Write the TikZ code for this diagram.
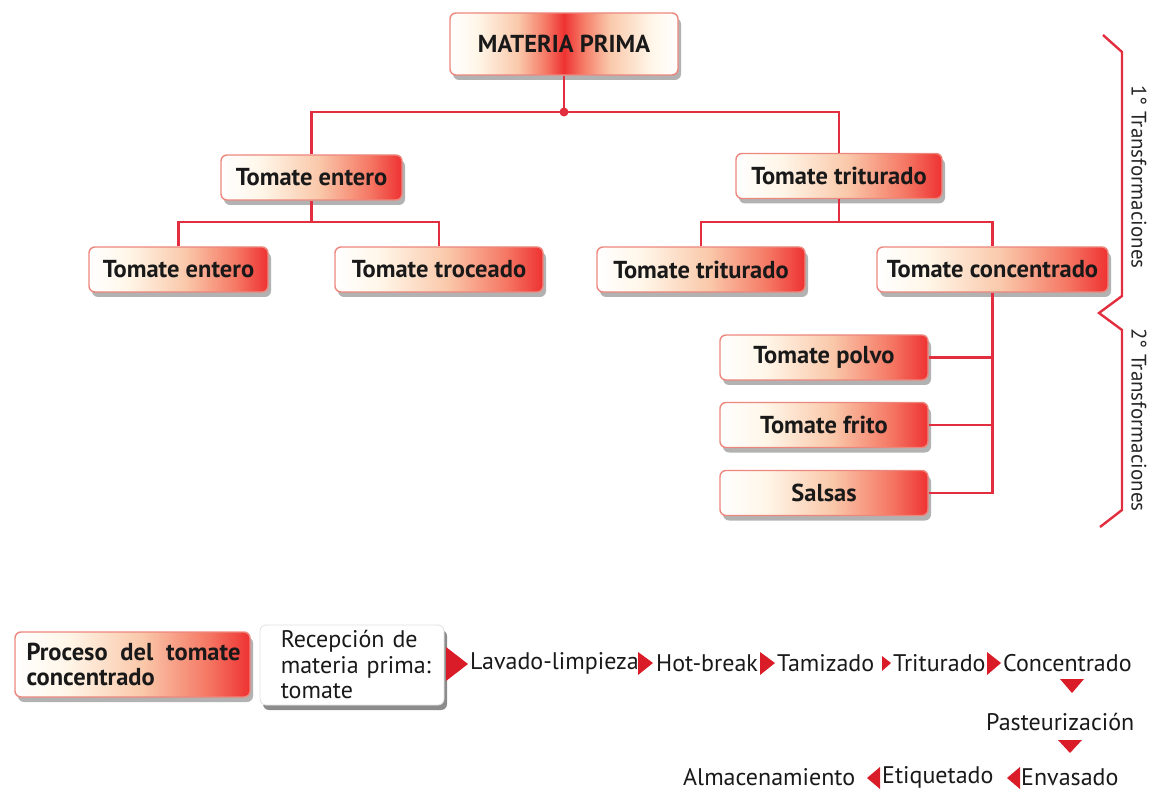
\documentclass[tikz,border=0pt]{standalone}
\usepackage{fontspec}
\setmainfont{PT Sans}
\usetikzlibrary{shadows}
\definecolor{boxred}{RGB}{238,50,50}
\definecolor{salmonr}{RGB}{245,120,100}
\definecolor{peach}{RGB}{250,200,170}
\definecolor{cream}{RGB}{255,246,232}
\definecolor{boxborder}{RGB}{236,135,125}
\definecolor{linered}{RGB}{226,46,62}
\definecolor{tri}{RGB}{218,28,40}
\pgfdeclarehorizontalshading{redbox}{100bp}{color(0bp)=(white); color(25bp)=(white); color(36bp)=(cream); color(52bp)=(peach); color(66bp)=(salmonr); color(75bp)=(boxred); color(100bp)=(boxred)}
\pgfdeclarehorizontalshading{midred}{100bp}{color(0bp)=(white); color(25bp)=(white); color(31bp)=(cream); color(40bp)=(peach); color(46bp)=(salmonr); color(50bp)=(boxred); color(54bp)=(salmonr); color(60bp)=(peach); color(69bp)=(cream); color(75bp)=(white); color(100bp)=(white)}
\begin{document}
\begin{tikzpicture}[x=1pt,y=-1pt,
  box/.style={draw=boxborder, line width=1.4pt, rounded corners=6pt, shading=redbox,
    drop shadow={shadow xshift=3pt, shadow yshift=-5pt, fill=black, opacity=0.3},
    font=\bfseries\fontsize{24.5}{28}\selectfont, text=black!90, minimum height=45pt, inner sep=0pt},
  conn/.style={draw=linered, line width=2.4pt},
  brace/.style={draw=linered, line width=2.4pt, line join=miter},
  proc/.style={font=\fontsize{24}{28}\selectfont, text=black!90, inner sep=0pt, anchor=west},
  side/.style={font=\fontsize{21}{24}\selectfont, text=black!85, rotate=-90},
  tri/.style={fill=tri}]
\useasboundingbox (0,0) rectangle (1151,791);

% top tree
\node[box, shading=midred, minimum width=228pt, minimum height=62pt] (mp) at (564,44) {MATERIA PRIMA};
\node[box, minimum width=181pt] (te1) at (311.5,177.5) {Tomate entero};
\node[box, minimum width=206pt] (tt1) at (839,176) {Tomate triturado};
\node[box, minimum width=179pt] (te2) at (178.5,269.5) {Tomate entero};
\node[box, minimum width=208pt] (tc) at (439,269.5) {Tomate troceado};
\node[box, minimum width=208pt] (tt2) at (701,269.5) {Tomate triturado};
\node[box, minimum width=231pt] (tcon) at (992.5,269.5) {Tomate concentrado};
\node[box, minimum width=208pt] (tp) at (824,357.5) {Tomate polvo};
\node[box, minimum width=208pt] (tf) at (824,425) {Tomate frito};
\node[box, minimum width=208pt] (sa) at (824,493) {Salsas};

\coordinate (j1) at (564,112);
\coordinate (j2) at (311.5,222);
\coordinate (j3) at (839,222);
\draw[conn] (mp.south) -- (j1);
\fill[linered] (j1) circle (4.5pt);
\draw[conn] (te1.north) |- (j1) -| (tt1.north);
\draw[conn] (te1.south) -- (j2);
\draw[conn] (te2.north) |- (j2) -| (tc.north);
\draw[conn] (tt1.south) -- (j3);
\draw[conn] (tt2.north) |- (j3) -| (tcon.north);
\draw[conn] (tcon.south) |- (sa.east);
\draw[conn] (tp.east) -- (tp.east -| tcon.south);
\draw[conn] (tf.east) -- (tf.east -| tcon.south);

% braces
\draw[brace] (1103,35) -- (1122,52) -- (1122,296) -- (1099,313) -- (1122,330) -- (1122,510) -- (1100,527);
\node[side] (s1) at (1139,177) {1° Transformaciones};
\node[side] (s2) at (1139,420) {2° Transformaciones};

% bottom process
\node[box, minimum width=235pt, minimum height=65pt, text width=216pt, align=left,
  font=\bfseries\fontsize{24.5}{25}\selectfont] (pr) at (132.5,664.5)
  {\hbox to 216pt{\hspace{2pt}Proceso\hfill del\hfill tomate}\\\hspace*{2pt}concentrado};
\node[draw=black!12, line width=0.8pt, rounded corners=6pt, fill=white,
  drop shadow={shadow xshift=3pt, shadow yshift=-5pt, fill=black, opacity=0.45},
  minimum width=184pt, minimum height=80pt, inner sep=0pt] (rc) at (352,665) {};
\node[anchor=west, text width=160pt, align=left, inner sep=0pt,
  font=\fontsize{24}{25.5}\selectfont, text=black!90] (rct) at ([xshift=21pt]rc.west)
  {Recepción de\\materia prima:\\tomate};

\node[proc] (l1) at (470,663) {Lavado-limpieza};
\node[proc] (l2) at (656,663) {Hot-break};
\node[proc] (l3) at (777,663) {Tamizado};
\node[proc] (l4) at (893,663) {Triturado};
\node[proc] (l5) at (1003,663) {Concentrado};
\node[proc] (l6) at (986,722) {Pasteurización};
\node[proc] (l7) at (683,777) {Almacenamiento};
\node[proc] (l8) at (882,777) {Etiquetado};
\node[proc] (l9) at (1021,777) {Envasado};

% arrow triangles
\fill[tri] (446,647) -- (468,664) -- (446,681) -- cycle;
\fill[tri] (638,652) -- (653,663) -- (638,675) -- cycle;
\fill[tri] (760,652) -- (775,663) -- (760,675) -- cycle;
\fill[tri] (882,656) -- (891,663) -- (882,671) -- cycle;
\fill[tri] (987,652) -- (1001,663) -- (987,675) -- cycle;
\fill[tri] (1060,679) -- (1084,679) -- (1072,693) -- cycle;
\fill[tri] (1058,740) -- (1082,740) -- (1070,753) -- cycle;
\fill[tri] (880,767) -- (867,778) -- (880,789) -- cycle;
\fill[tri] (1020,767) -- (1007,778) -- (1020,789) -- cycle;
\end{tikzpicture}
\end{document}
